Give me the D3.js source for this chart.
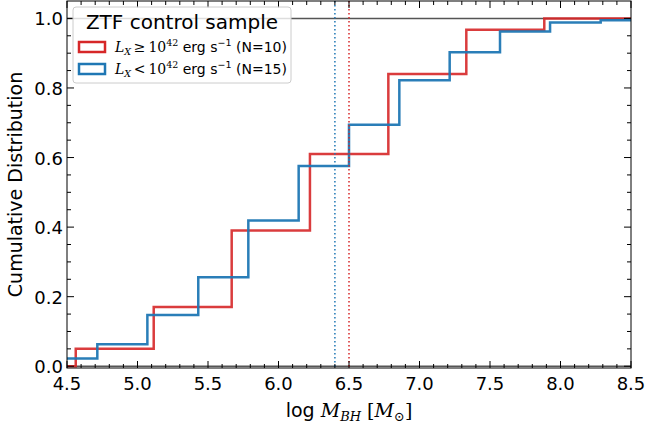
<!DOCTYPE html>
<html>
<head>
<meta charset="UTF-8">
<title>cdf</title>
<style>
  body { margin: 0; background: #fff; }
  text { font-family: "DejaVu Sans", sans-serif; fill: #000; }
  .math { font-family: "DejaVu Serif", serif; font-style: italic; }
</style>
</head>
<body>
<div class="svg-zone"></div>
<script src="https://cdn.jsdelivr.net/npm/d3@7/dist/d3.min.js"></script>
<script>
// step edges (log M_BH) and cumulative levels
const redEdges = [4.5, 4.562, 5.115, 5.668, 6.223, 6.779, 7.332, 7.885, 8.5];
const redLevels = [0, 0.05, 0.17, 0.39, 0.61, 0.84, 0.967, 1.0];
const blueEdges = [4.5, 4.715, 5.07, 5.431, 5.786, 6.143, 6.5, 6.857, 7.214, 7.571, 7.926, 8.285, 8.5];
const blueLevels = [0.022, 0.063, 0.147, 0.256, 0.419, 0.576, 0.694, 0.822, 0.903, 0.962, 0.988, 0.995];
const medians = [6.40, 6.50];   // blue, red
const xTicks = [4.5, 5.0, 5.5, 6.0, 6.5, 7.0, 7.5, 8.0, 8.5];
const yTicks = [0.0, 0.2, 0.4, 0.6, 0.8, 1.0];

const width = 649, height = 424;
const pL = 67, pR = 631, pT = 1, pB = 368;
const red = "#d62728", blue = "#1f77b4";

const x = d3.scaleLinear().domain([4.5, 8.5]).range([pL, pR]);
const y = d3.scaleLinear().domain([-0.005, 1.05]).range([pB, pT]);

const svg = d3.select(".svg-zone").append("svg")
  .attr("width", width).attr("height", height);

svg.append("defs").append("clipPath").attr("id", "clip")
  .append("rect").attr("x", pL).attr("y", pT)
  .attr("width", pR - pL).attr("height", pB - pT);

const plot = svg.append("g").attr("clip-path", "url(#clip)");

// reference lines at 0 and 1
[0, 1].forEach(v => {
  plot.append("line")
    .attr("x1", pL).attr("x2", pR)
    .attr("y1", y(v)).attr("y2", y(v))
    .attr("stroke", "#555").attr("stroke-width", 1.5);
});

function toPts(edges, levels) {
  let pts = levels.map((l, i) => [edges[i], l]);
  pts.push([edges[edges.length - 1], levels[levels.length - 1]]);
  return pts;
}
const line = d3.line().x(d => x(d[0])).y(d => y(d[1])).curve(d3.curveStepAfter);

plot.append("path").datum(toPts(redEdges, redLevels))
  .attr("d", line).attr("fill", "none")
  .attr("stroke", red).attr("stroke-width", 2.5).attr("stroke-opacity", 0.9);
plot.append("path").datum(toPts(blueEdges, blueLevels))
  .attr("d", line).attr("fill", "none")
  .attr("stroke", blue).attr("stroke-width", 2.5).attr("stroke-opacity", 0.95);

// median dotted lines
[[medians[0], blue], [medians[1], red]].forEach(m => {
  plot.append("line")
    .attr("x1", x(m[0])).attr("x2", x(m[0]))
    .attr("y1", pT).attr("y2", pB)
    .attr("stroke", m[1]).attr("stroke-width", 1.5)
    .attr("stroke-dasharray", "1.5,2.5");
});

// frame
svg.append("rect").attr("x", pL).attr("y", pT)
  .attr("width", pR - pL).attr("height", pB - pT)
  .attr("fill", "none").attr("stroke", "#000").attr("stroke-width", 1);

// ticks, pointing inward on all sides
const xMinor = d3.range(45, 86).map(d => d / 10);
const yMinor = d3.range(0, 21).map(d => d / 20);
const tg = svg.append("g").attr("stroke", "#000").attr("stroke-width", 1);
xMinor.forEach(v => {
  const len = xTicks.some(t => Math.abs(t - v) < 1e-6) ? 7 : 4;
  tg.append("line").attr("x1", x(v)).attr("x2", x(v)).attr("y1", pB).attr("y2", pB - len);
  tg.append("line").attr("x1", x(v)).attr("x2", x(v)).attr("y1", pT).attr("y2", pT + len);
});
yMinor.forEach(v => {
  const len = yTicks.some(t => Math.abs(t - v) < 1e-6) ? 7 : 4;
  tg.append("line").attr("x1", pL).attr("x2", pL + len).attr("y1", y(v)).attr("y2", y(v));
  tg.append("line").attr("x1", pR).attr("x2", pR - len).attr("y1", y(v)).attr("y2", y(v));
});

// tick labels
svg.append("g").selectAll("text").data(xTicks).join("text")
  .attr("x", d => x(d)).attr("y", pB + 22)
  .attr("text-anchor", "middle").attr("font-size", 18)
  .text(d => d.toFixed(1));
svg.append("g").selectAll("text").data(yTicks).join("text")
  .attr("x", pL - 4).attr("y", d => y(d) + 7)
  .attr("text-anchor", "end").attr("font-size", 18)
  .text(d => d.toFixed(1));

// axis labels
svg.append("text")
  .attr("transform", "translate(22," + ((pT + pB) / 2) + ") rotate(-90)")
  .attr("text-anchor", "middle").attr("font-size", 19)
  .text("Cumulative Distribution");

const xl = svg.append("text").attr("x", (pL + pR) / 2).attr("y", 417)
  .attr("text-anchor", "middle").attr("font-size", 19);
xl.append("tspan").text("log ");
xl.append("tspan").attr("class", "math").text("M");
xl.append("tspan").attr("class", "math").attr("font-size", 13).attr("dy", 4).text("BH");
xl.append("tspan").attr("dy", -4).attr("font-family", "DejaVu Serif").text(" [");
xl.append("tspan").attr("class", "math").text("M");
xl.append("tspan").attr("font-family", "DejaVu Serif").attr("font-size", 13).attr("dy", 4).text("\u2299");
xl.append("tspan").attr("font-family", "DejaVu Serif").attr("dy", -4).text("]");

// legend
const lg = svg.append("g");
lg.append("rect").attr("x", 73).attr("y", 7).attr("width", 218).attr("height", 76)
  .attr("rx", 3).attr("fill", "#fff").attr("fill-opacity", 0.8)
  .attr("stroke", "#ccc").attr("stroke-width", 1);
lg.append("text").attr("x", 182).attr("y", 29).attr("text-anchor", "middle")
  .attr("font-size", 20).text("ZTF control sample");

const entries = [
  { color: red, rel: "\u2265", n: 10 },
  { color: blue, rel: "<", n: 15 }
];
entries.forEach((e, i) => {
  const yy = 47 + i * 22;
  lg.append("rect").attr("x", 79).attr("y", yy - 5).attr("width", 26).attr("height", 10)
    .attr("fill", "none").attr("stroke", e.color).attr("stroke-width", 2.5);
  const t = lg.append("text").attr("x", 115).attr("y", yy + 5).attr("font-size", 14);
  t.append("tspan").attr("class", "math").text("L");
  t.append("tspan").attr("class", "math").attr("font-size", 9.5).attr("dy", 3).text("X");
  t.append("tspan").attr("font-family", "DejaVu Serif").attr("dy", -3).text("\u2009" + e.rel + "\u200910");
  t.append("tspan").attr("font-family", "DejaVu Serif").attr("font-size", 9.5).attr("dy", -6).text("42");
  t.append("tspan").attr("dy", 6).text(" erg s");
  t.append("tspan").attr("font-size", 9.5).attr("dy", -6).text("\u22121");
  t.append("tspan").attr("dy", 6).text(" (N=" + e.n + ")");
});
</script>
</body>
</html>
